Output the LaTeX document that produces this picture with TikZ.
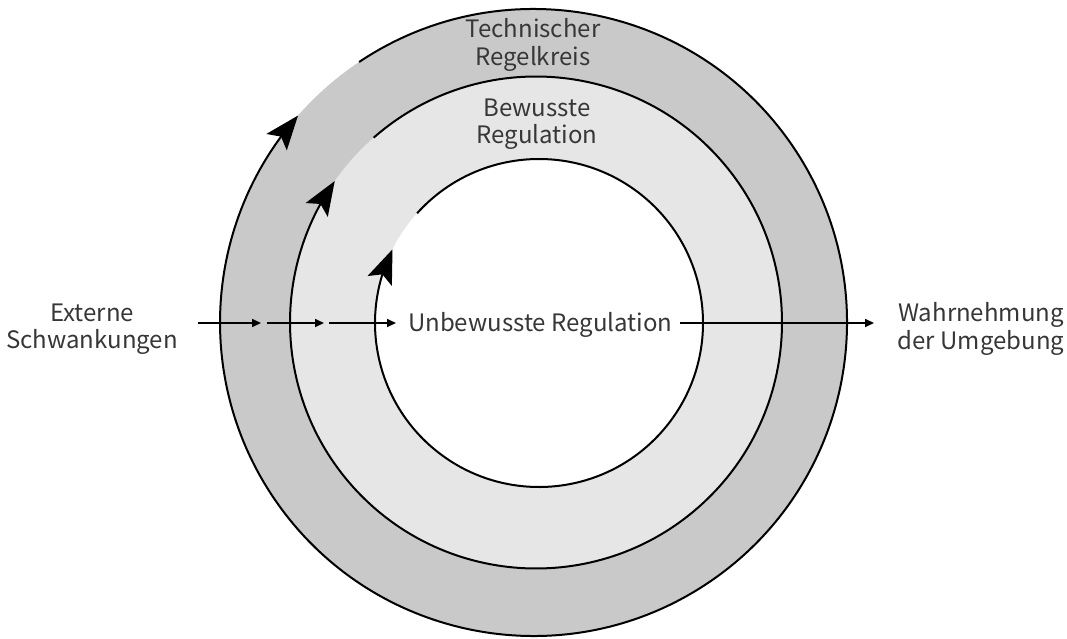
\documentclass[tikz,border=0pt]{standalone}
\usepackage{fontspec}
\setmainfont{Noto Sans CJK JP}
\usetikzlibrary{arrows.meta,bending}
\definecolor{ringdark}{RGB}{201,201,201}
\definecolor{ringlight}{RGB}{230,230,230}
\definecolor{labeltext}{RGB}{55,55,55}
\begin{document}
\begin{tikzpicture}[x=1pt,y=-1pt,
  lbl/.style={font=\fontsize{24}{27.5}\selectfont, text=labeltext, align=center, inner sep=0pt},
  ring/.style={line width=2pt, draw=black},
  loop/.style={ring, -{Stealth[length=34pt,width=26pt,inset=7pt,flex]}},
  flow/.style={line width=1.6pt, -{Triangle[length=9pt,width=8pt]}}]
\useasboundingbox (0,0) rectangle (1067,639);

% centres of the three rings
\coordinate (oc) at (533.5,322.5);
\coordinate (mc) at (536,322.5);
\coordinate (ic) at (539,323);

% filled discs
\fill[ringdark]  (oc) circle[radius=313.5pt];
\fill[ringlight] (mc) circle[radius=246pt];
\fill[white]     (ic) circle[radius=164pt];

% ring outlines, each open at the upper left and ending in an arrow
\draw[loop] (oc) ++(123.8:313.5pt) arc[start angle=123.8, end angle=-221.3, radius=313.5pt];
\draw[loop] (mc) ++(131.3:246pt) arc[start angle=131.3, end angle=-215.1, radius=246pt];
\draw[loop] (ic) ++(138:164pt) arc[start angle=138, end angle=-206.7, radius=164pt];

% labels
\node[lbl] (tech) at (533,45) {Technischer\\Regelkreis};
\node[lbl] (bew) at (537,124) {Bewusste\\Regulation};
\node[lbl, anchor=west] (unb) at (408,325) {Unbewusste Regulation};
\node[lbl] (ext) at (92,329) {Externe\\Schwankungen};
\node[lbl] (wahr) at (981,329) {Wahrnehmung\\der Umgebung};

% flow along the horizontal axis
\coordinate (a0) at (198,323);
\coordinate (a1) at (261,323);
\coordinate (b0) at (267,323);
\coordinate (b1) at (324,323);
\coordinate (c0) at (329,323);
\coordinate (c1) at (396,323);
\coordinate (d0) at (680,323);
\coordinate (d1) at (874,323);
\draw[flow] (a0) -- (a1);
\draw[flow] (b0) -- (b1);
\draw[flow] (c0) -- (c1);
\draw[flow] (d0) -- (d1);
\end{tikzpicture}
\end{document}
